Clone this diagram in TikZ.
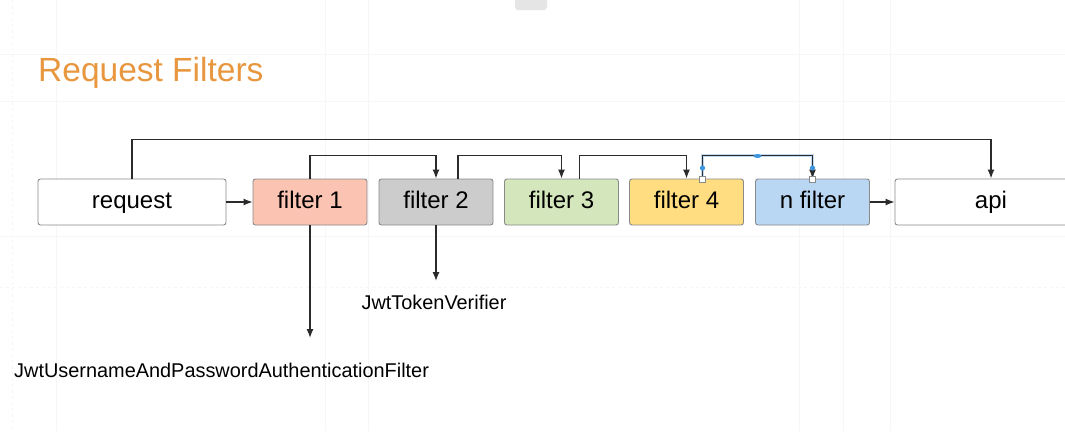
\documentclass[tikz,border=0pt]{standalone}
\usepackage{fontspec}
\setmainfont{Liberation Sans}
\usetikzlibrary{arrows.meta}
\definecolor{titleor}{HTML}{E8973F}
\definecolor{fone}{HTML}{FBC4B2}
\definecolor{ftwo}{HTML}{CCCCCC}
\definecolor{fthree}{HTML}{D4E6BC}
\definecolor{ffour}{HTML}{FFDD80}
\definecolor{fn}{HTML}{B9D6F2}
\definecolor{lineC}{HTML}{2B2B2B}
\definecolor{boxline}{HTML}{8A8A8A}
\definecolor{gridc}{HTML}{F6F6F6}
\definecolor{selC}{HTML}{A9CDEB}
\definecolor{handleC}{HTML}{3C95DD}
\tikzset{
  boxst/.style={draw=boxline, line width=0.9pt, rounded corners=2.5pt, minimum height=46pt, inner sep=0pt, text height=17.5pt, text depth=5pt, font=\fontsize{24}{28}\selectfont, text=black},
  conn/.style={draw=lineC, line width=1.3pt, -{Latex[length=9pt,width=7pt]}},
  lbl/.style={font=\fontsize{19.9}{23}\selectfont, inner sep=0pt, text=black},
}
\begin{document}
\begin{tikzpicture}[x=1pt,y=-1pt]
\useasboundingbox (0,0) rectangle (1065,431);
\fill[white] (0,0) rectangle (1065,431);
% faint background grid
\draw[gridc, line width=0.6pt] (0,54) -- (1065,54) (0,101) -- (1065,101) (0,236) -- (1065,236);
\draw[gridc, line width=0.6pt, dashed] (0,287) -- (1065,287);
\draw[gridc, line width=0.6pt, dashed] (12,0) -- (12,431);
\draw[gridc, line width=0.6pt] (56,0) -- (56,431) (325,0) -- (325,431) (368,0) -- (368,431) (799,0) -- (799,431) (843,0) -- (843,431) (890,0) -- (890,431);
% top tab
\fill[gray!20, rounded corners=3pt] (515,-6) rectangle (547,10);
% title
\node[anchor=base west, inner sep=0pt, text=titleor, font=\fontsize{33.5}{38}\selectfont] (title) at (38,81) {Request Filters};
% boxes
\node[boxst, fill=white, minimum width=188pt] (req) at (132,202) {request};
\node[boxst, fill=fone, minimum width=114pt] (f1) at (310,202) {filter 1};
\node[boxst, fill=ftwo, minimum width=114pt] (f2) at (436,202) {filter 2};
\node[boxst, fill=fthree, minimum width=114pt] (f3) at (561.5,202) {filter 3};
\node[boxst, fill=ffour, minimum width=114pt] (f4) at (686.5,202) {filter 4};
\node[boxst, fill=fn, minimum width=114pt] (fnn) at (812.5,202) {n filter};
\node[boxst, fill=white, minimum width=192pt] (api) at (991,202) {api};
% labels
\node[lbl] (tok) at (434,302) {JwtTokenVerifier};
\node[lbl, anchor=west] (jup) at (14,370) {JwtUsernameAndPasswordAuthenticationFilter};
\coordinate (tokend) at (436,281);
\coordinate (jupend) at (310,338);
% connectors
\draw[conn] (req.east) -- (f1.west);
\draw[conn] (fnn.east) -- (api.west);
\draw[conn] (req.north) -- ++(0,-39) -| (api.north);
\draw[conn] (f1.north) -- ++(0,-23) -| (f2.north);
\draw[conn] ([xshift=22pt]f2.north) -- ++(0,-23) -| (f3.north);
\draw[conn] ([xshift=18pt]f3.north) -- ++(0,-23) -| (f4.north);
% selected connector
\draw[selC, line width=3.2pt, opacity=0.7] ([xshift=16pt]f4.north) -- ++(0,-23) -| (fnn.north);
\draw[conn] ([xshift=16pt]f4.north) -- ++(0,-23) -| (fnn.north);
\fill[handleC] (702.5,168) circle (2.6pt);
\fill[handleC] (812.5,168) circle (2.6pt);
\fill[handleC] (757.5,156) ellipse (4pt and 2pt);
\draw[boxline, fill=white, line width=0.6pt] (699.5,176) rectangle (705.5,182);
\draw[boxline, fill=white, line width=0.6pt] (809.5,176) rectangle (815.5,182);
% down arrows
\draw[conn] (f1.south) -- (jupend);
\draw[conn] (f2.south) -- (tokend);
\end{tikzpicture}
\end{document}
